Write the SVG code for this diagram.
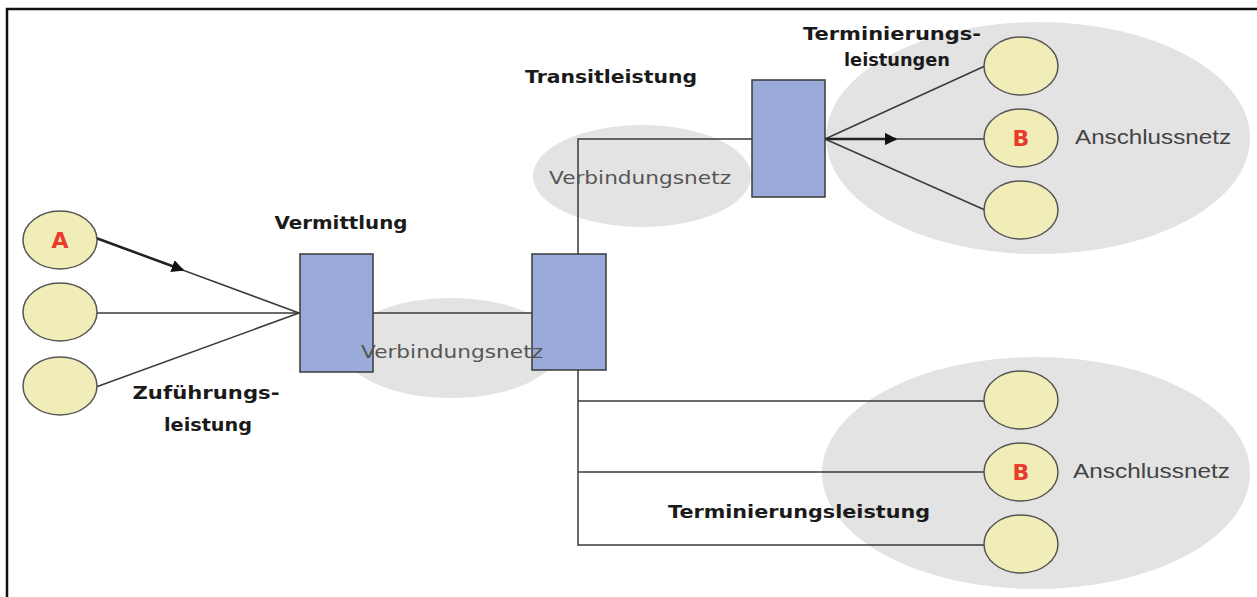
<svg xmlns="http://www.w3.org/2000/svg" width="1257" height="597" viewBox="0 0 1257 597">
  <style>
    .net { fill: #e3e3e3; stroke: none; }
    .switch { fill: #9aabd9; stroke: #3a3a3a; stroke-width: 1.5; }
    .term { fill: #f0edb9; stroke: #555; stroke-width: 1.5; }
    .wire { fill: none; stroke: #3a3a3a; stroke-width: 1.5; }
    .flow { fill: none; stroke: #222; stroke-width: 2.5; }
    .label { font-family: "DejaVu Sans", Verdana, sans-serif; font-weight: bold; font-size: 18px; fill: #1a1a1a; text-anchor: middle; }
    .netname { font-family: "DejaVu Sans", Verdana, sans-serif; font-size: 18px; fill: #555; text-anchor: middle; }
    .area { font-family: "Liberation Sans", Arial, sans-serif; font-size: 20px; fill: #444; text-anchor: start; }
    .party { font-family: "DejaVu Sans", Verdana, sans-serif; font-weight: bold; font-size: 22px; fill: #ea3a2a; text-anchor: middle; }
  </style>
  <defs>
    <marker id="head" viewBox="0 0 10 10" refX="9" refY="5" markerWidth="5" markerHeight="5" orient="auto" markerUnits="strokeWidth">
      <path d="M0,0 L10,5 L0,10 z" fill="#111"/>
    </marker>
  </defs>

  <rect x="0" y="0" width="1257" height="597" fill="#fff"/>
  <!-- outer frame -->
  <path d="M7,597 V9 H1257" fill="none" stroke="#111" stroke-width="2.5"/>

  <!-- network areas -->
  <g id="net-access-top"><ellipse class="net" cx="1038" cy="138" rx="212" ry="116"/></g>
  <g id="net-access-bottom"><ellipse class="net" cx="1036" cy="473" rx="214" ry="116"/></g>
  <g id="net-link-top"><ellipse class="net" cx="642" cy="176" rx="109" ry="51"/></g>
  <g id="net-link-bottom"><ellipse class="net" cx="451" cy="348" rx="108" ry="50"/></g>

  <!-- connectors -->
  <g id="connectors">
    <line class="wire" x1="96" y1="238" x2="299" y2="313"/>
    <line class="flow" x1="96" y1="238" x2="183" y2="270" marker-end="url(#head)"/>
    <line class="wire" x1="97" y1="313" x2="300" y2="313"/>
    <line class="wire" x1="96" y1="387" x2="299" y2="313"/>
    <line class="wire" x1="373" y1="313" x2="532" y2="313"/>
    <polyline class="wire" points="578,254 578,139 752,139"/>
    <line class="wire" x1="825" y1="139" x2="985" y2="66"/>
    <line class="wire" x1="825" y1="139" x2="984" y2="139"/>
    <line class="flow" x1="825" y1="139" x2="896" y2="139" marker-end="url(#head)"/>
    <line class="wire" x1="825" y1="139" x2="985" y2="210"/>
    <polyline class="wire" points="578,370 578,545 984,545"/>
    <line class="wire" x1="578" y1="401" x2="984" y2="401"/>
    <line class="wire" x1="578" y1="472" x2="984" y2="472"/>
  </g>

  <!-- switching nodes -->
  <g id="switch-origin"><rect class="switch" x="300" y="254" width="73" height="118"/></g>
  <g id="switch-transit"><rect class="switch" x="532" y="254" width="74" height="116"/></g>
  <g id="switch-target"><rect class="switch" x="752" y="80" width="73" height="117"/></g>

  <!-- subscribers, origin side -->
  <g id="sub-a">
    <ellipse class="term" cx="60" cy="240" rx="37" ry="29"/>
    <text class="party" x="60" y="248">A</text>
  </g>
  <g id="sub-a2"><ellipse class="term" cx="60" cy="312" rx="37" ry="29"/></g>
  <g id="sub-a3"><ellipse class="term" cx="60" cy="386" rx="37" ry="29"/></g>

  <!-- subscribers, upper access network -->
  <g id="sub-t1"><ellipse class="term" cx="1021" cy="66" rx="37" ry="29"/></g>
  <g id="sub-tb">
    <ellipse class="term" cx="1021" cy="138" rx="37" ry="29"/>
    <text class="party" x="1021" y="146">B</text>
  </g>
  <g id="sub-t3"><ellipse class="term" cx="1021" cy="210" rx="37" ry="29"/></g>

  <!-- subscribers, lower access network -->
  <g id="sub-b1"><ellipse class="term" cx="1021" cy="400" rx="37" ry="29"/></g>
  <g id="sub-bb">
    <ellipse class="term" cx="1021" cy="472" rx="37" ry="29"/>
    <text class="party" x="1021" y="480">B</text>
  </g>
  <g id="sub-b3"><ellipse class="term" cx="1021" cy="544" rx="37" ry="29"/></g>

  <!-- labels -->
  <g id="labels">
    <text class="netname" x="640" y="184" textLength="182" lengthAdjust="spacingAndGlyphs">Verbindungsnetz</text>
    <text class="netname" x="452" y="358" textLength="182" lengthAdjust="spacingAndGlyphs">Verbindungsnetz</text>
    <text class="area" x="1075" y="144" textLength="156" lengthAdjust="spacingAndGlyphs">Anschlussnetz</text>
    <text class="area" x="1073" y="478" textLength="157" lengthAdjust="spacingAndGlyphs">Anschlussnetz</text>
    <text class="label" x="341" y="229" textLength="133" lengthAdjust="spacingAndGlyphs">Vermittlung</text>
    <text class="label" x="611" y="83" textLength="172" lengthAdjust="spacingAndGlyphs">Transitleistung</text>
    <text class="label" x="892" y="40" textLength="178" lengthAdjust="spacingAndGlyphs">Terminierungs-</text>
    <text class="label" x="897" y="66" textLength="106" lengthAdjust="spacingAndGlyphs">leistungen</text>
    <text class="label" x="206" y="399" textLength="147" lengthAdjust="spacingAndGlyphs">Zuführungs-</text>
    <text class="label" x="208" y="431" textLength="88" lengthAdjust="spacingAndGlyphs">leistung</text>
    <text class="label" x="799" y="518" textLength="262" lengthAdjust="spacingAndGlyphs">Terminierungsleistung</text>
  </g>
</svg>
